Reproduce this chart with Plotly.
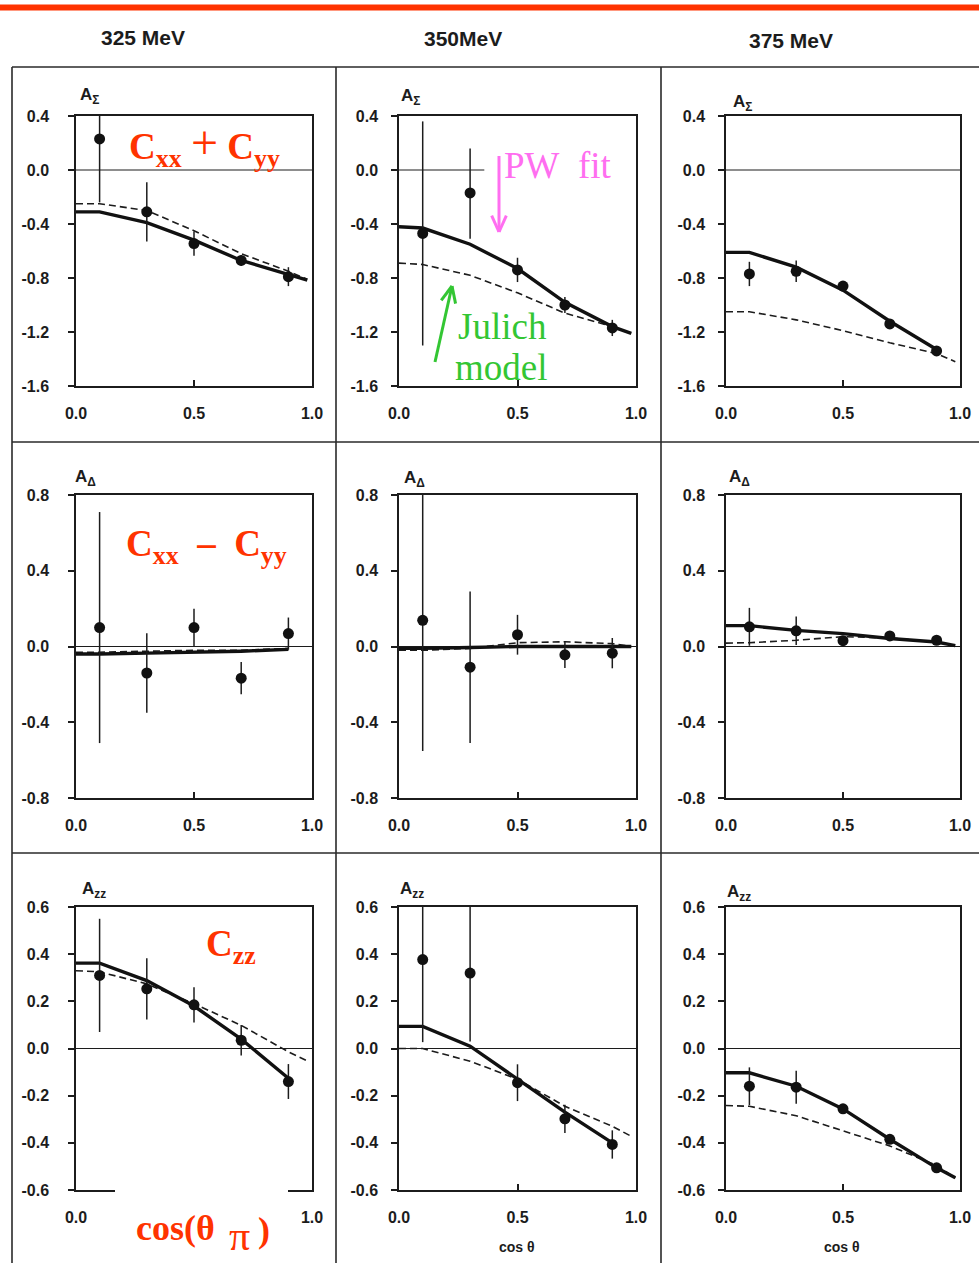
import math
import plotly.graph_objects as go

W, H = 979, 1263

# ---------------- data ----------------
energies = ["325 MeV", "350MeV", "375 MeV"]
observables = ["A<sub>Σ</sub>", "A<sub>Δ</sub>", "A<sub>zz</sub>"]

cos_pts = [0.1, 0.3, 0.5, 0.7, 0.9]
curve_x = [0.0, 0.1, 0.3, 0.5, 0.7, 0.9, 0.98]

# A_Sigma = Cxx + Cyy
asig_325 = [0.23, -0.31, -0.545, -0.67, -0.79]
asig_325_up = [0.20, 0.22, 0.09, 0.04, 0.07]
asig_325_dn = [0.47, 0.22, 0.09, 0.04, 0.07]
asig_325_pw = [-0.31, -0.31, -0.39, -0.52, -0.67, -0.775, -0.815]
asig_325_jul = [-0.25, -0.25, -0.30, -0.45, -0.62, -0.75, -0.81]

asig_350 = [-0.47, -0.17, -0.74, -1.00, -1.17]
asig_350_up = [0.83, 0.33, 0.09, 0.06, 0.06]
asig_350_dn = [0.83, 0.34, 0.09, 0.06, 0.06]
asig_350_pw = [-0.42, -0.43, -0.55, -0.73, -0.98, -1.16, -1.21]
asig_350_jul = [-0.69, -0.70, -0.78, -0.91, -1.06, -1.16, -1.21]

asig_375 = [-0.77, -0.75, -0.86, -1.14, -1.34]
asig_375_up = [0.09, 0.08, 0.03, 0.03, 0.03]
asig_375_dn = [0.09, 0.08, 0.03, 0.03, 0.03]
asig_375_pw = [-0.61, -0.61, -0.72, -0.89, -1.12, -1.33, None]
asig_375_jul = [-1.05, -1.05, -1.11, -1.19, -1.28, -1.36, -1.42]

# A_Delta = Cxx - Cyy
adel_325 = [0.10, -0.14, 0.10, -0.167, 0.068]
adel_325_up = [0.61, 0.21, 0.10, 0.085, 0.085]
adel_325_dn = [0.61, 0.21, 0.10, 0.085, 0.085]
adel_325_pw = [-0.04, -0.04, -0.035, -0.03, -0.025, -0.015, None]
adel_325_jul = [-0.03, -0.03, -0.025, -0.02, -0.02, -0.01, None]

adel_350 = [0.138, -0.109, 0.062, -0.044, -0.035]
adel_350_up = [0.73, 0.40, 0.105, 0.07, 0.08]
adel_350_dn = [0.69, 0.40, 0.105, 0.07, 0.08]
adel_350_pw = [-0.01, -0.01, -0.005, 0.0, 0.0, 0.0, 0.0]
adel_350_jul = [-0.02, -0.02, -0.01, 0.02, 0.025, 0.015, 0.0]

adel_375 = [0.104, 0.083, 0.031, 0.056, 0.033]
adel_375_up = [0.10, 0.075, 0.025, 0.015, 0.015]
adel_375_dn = [0.10, 0.075, 0.025, 0.015, 0.015]
adel_375_pw = [0.11, 0.11, 0.085, 0.068, 0.042, 0.024, 0.005]
adel_375_jul = [0.018, 0.02, 0.033, 0.052, 0.045, 0.024, 0.005]

# A_zz = Czz
azz_325 = [0.31, 0.253, 0.185, 0.035, -0.14]
azz_325_up = [0.24, 0.13, 0.075, 0.065, 0.074]
azz_325_dn = [0.24, 0.13, 0.075, 0.065, 0.074]
azz_325_pw = [0.362, 0.362, 0.288, 0.18, 0.04, -0.126, None]
azz_325_jul = [0.33, 0.325, 0.274, 0.19, 0.098, -0.014, -0.053]

azz_350 = [0.377, 0.32, -0.145, -0.298, -0.407]
azz_350_up = [0.245, 0.30, 0.078, 0.06, 0.06]
azz_350_dn = [0.35, 0.29, 0.078, 0.06, 0.06]
azz_350_pw = [0.094, 0.094, 0.01, -0.13, -0.27, -0.40, None]
azz_350_jul = [0.0, 0.0, -0.054, -0.13, -0.245, -0.33, -0.372]

azz_375 = [-0.16, -0.164, -0.256, -0.385, -0.506]
azz_375_up = [0.08, 0.07, 0.02, 0.02, 0.02]
azz_375_dn = [0.08, 0.07, 0.02, 0.02, 0.02]
azz_375_pw = [-0.103, -0.103, -0.16, -0.256, -0.385, -0.506, -0.548]
azz_375_jul = [-0.242, -0.245, -0.285, -0.35, -0.413, -0.496, -0.55]

x_ticks = [0.0, 0.5, 1.0]
x_ticklabels = ["0.0", "0.5", "1.0"]
y_ticks_sig = [-1.6, -1.2, -0.8, -0.4, 0.0, 0.4]
y_ticklabels_sig = ["-1.6", "-1.2", "-0.8", "-0.4", "0.0", "0.4"]
y_ticks_del = [-0.8, -0.4, 0.0, 0.4, 0.8]
y_ticklabels_del = ["-0.8", "-0.4", "0.0", "0.4", "0.8"]
y_ticks_zz = [-0.6, -0.4, -0.2, 0.0, 0.2, 0.4, 0.6]
y_ticklabels_zz = ["-0.6", "-0.4", "-0.2", "0.0", "0.2", "0.4", "0.6"]

panels = [
    [(asig_325, asig_325_up, asig_325_dn, asig_325_pw, asig_325_jul),
     (asig_350, asig_350_up, asig_350_dn, asig_350_pw, asig_350_jul),
     (asig_375, asig_375_up, asig_375_dn, asig_375_pw, asig_375_jul)],
    [(adel_325, adel_325_up, adel_325_dn, adel_325_pw, adel_325_jul),
     (adel_350, adel_350_up, adel_350_dn, adel_350_pw, adel_350_jul),
     (adel_375, adel_375_up, adel_375_dn, adel_375_pw, adel_375_jul)],
    [(azz_325, azz_325_up, azz_325_dn, azz_325_pw, azz_325_jul),
     (azz_350, azz_350_up, azz_350_dn, azz_350_pw, azz_350_jul),
     (azz_375, azz_375_up, azz_375_dn, azz_375_pw, azz_375_jul)],
]
row_ranges = [[-1.6, 0.4], [-0.8, 0.8], [-0.6, 0.6]]
row_ticks = [(y_ticks_sig, y_ticklabels_sig), (y_ticks_del, y_ticklabels_del),
             (y_ticks_zz, y_ticklabels_zz)]

# ---------------- geometry (pixels) ----------------
col_px = [(76, 312), (399, 636), (726, 960)]
row_px = [(116, 386), (495, 798), (907, 1190)]
ylabel_standoff = [16, 10, 10]


def px(x):
    return x / W


def py(y):
    return 1 - y / H


INK = "#1c1c1c"
RED = "#ff3300"
PINK = "#ff6ef0"
GREEN = "#33c633"
TICKFONT = dict(family="Liberation Sans, Arial", size=16, color=INK, weight="bold")

fig = go.Figure()
layout = dict(width=W, height=H,
              margin=dict(l=0, r=0, t=0, b=0, pad=0, autoexpand=False),
              paper_bgcolor="white", plot_bgcolor="white", showlegend=False)
shapes = []
annotations = []

for r in range(3):
    for c in range(3):
        k = r * 3 + c + 1
        xa = "x" if k == 1 else f"x{k}"
        ya = "y" if k == 1 else f"y{k}"
        xkey = "xaxis" if k == 1 else f"xaxis{k}"
        ykey = "yaxis" if k == 1 else f"yaxis{k}"
        pts, up, dn, pw, jul = panels[r][c]

        # the 325 MeV A_zz panel has its middle x label hidden under the axis title
        if (r, c) == (2, 0):
            xt, xl = [x_ticks[0], x_ticks[2]], [x_ticklabels[0], x_ticklabels[2]]
        else:
            xt, xl = x_ticks, x_ticklabels

        layout[xkey] = dict(
            domain=[px(col_px[c][0]), px(col_px[c][1])], anchor=ya,
            range=[0, 1], tickvals=xt, ticktext=xl, automargin=False,
            showline=True, mirror=True, linecolor=INK, linewidth=1.5,
            showgrid=False, zeroline=False, ticks="inside", ticklen=6,
            tickcolor=INK, tickwidth=1.5, tickfont=TICKFONT,
            ticklabelstandoff=12, fixedrange=True)
        layout[ykey] = dict(
            domain=[py(row_px[r][1]), py(row_px[r][0])], anchor=xa,
            range=row_ranges[r], tickvals=row_ticks[r][0],
            ticktext=row_ticks[r][1], automargin=False,
            showline=True, mirror=True, linecolor=INK, linewidth=1.5,
            showgrid=False, zeroline=False, ticks="outside", ticklen=6,
            tickcolor=INK, tickwidth=1.5, tickfont=TICKFONT,
            ticklabelstandoff=ylabel_standoff[c], fixedrange=True)

        # reference line at zero (partly covered by a label at 350 MeV A_Sigma)
        shapes.append(dict(type="line", xref=xa, yref=ya, x0=0,
                           x1=0.36 if (r, c) == (0, 1) else 1, y0=0, y1=0,
                           line=dict(color=INK, width=1), layer="below"))

        # Julich model (dashed)
        fig.add_trace(go.Scatter(x=curve_x, y=jul, xaxis=xa, yaxis=ya,
                                 mode="lines", connectgaps=False,
                                 line=dict(color=INK, width=1.6, dash="7px,4px")))
        # partial-wave fit (solid)
        fig.add_trace(go.Scatter(x=curve_x, y=pw, xaxis=xa, yaxis=ya,
                                 mode="lines", connectgaps=False,
                                 line=dict(color="#111111", width=3.4)))
        # measured points
        fig.add_trace(go.Scatter(
            x=cos_pts, y=pts, xaxis=xa, yaxis=ya, mode="markers",
            marker=dict(color="#111111", size=11), cliponaxis=False,
            error_y=dict(type="data", symmetric=False, array=up, arrayminus=dn,
                         width=0, thickness=1.5, color=INK)))

# observable labels above each panel
label_pos = [[(78, 96), (399, 97), (731, 103)],
             [(73, 478), (402, 479), (727, 478)],
             [(80, 890), (398, 890), (725, 893)]]
for r in range(3):
    for c in range(3):
        lx, ly = label_pos[r][c]
        annotations.append(dict(xref="paper", yref="paper", x=px(lx), y=py(ly),
                                xanchor="left", yanchor="middle", showarrow=False,
                                text=f"<b>{observables[r]}</b>",
                                font=dict(family="Liberation Sans, Arial", size=17,
                                          color=INK)))

# energy headers
for name, (hx, hy) in zip(energies, [(143, 38), (463, 39), (791, 41)]):
    annotations.append(dict(xref="paper", yref="paper", x=px(hx), y=py(hy),
                            xanchor="center", yanchor="middle", showarrow=False,
                            text=f"<b>{name}</b>",
                            font=dict(family="Liberation Sans, Arial", size=21,
                                      color=INK)))

# cos theta axis titles
for hx in (517, 842):
    annotations.append(dict(xref="paper", yref="paper", x=px(hx), y=py(1247),
                            xanchor="center", yanchor="middle", showarrow=False,
                            text="<b>cos θ</b>",
                            font=dict(family="Liberation Sans, Arial", size=14,
                                      color=INK)))

# outer frame of the panel grid
frame = dict(color="#2a2a2a", width=1.6)
for yy in (67, 442, 853):
    shapes.append(dict(type="line", xref="paper", yref="paper",
                       x0=px(12), x1=1, y0=py(yy), y1=py(yy), line=frame))
for xx in (12, 336, 661):
    shapes.append(dict(type="line", xref="paper", yref="paper",
                       x0=px(xx), x1=px(xx), y0=py(67), y1=0, line=frame))

# red rule along the top
shapes.append(dict(type="rect", xref="paper", yref="paper", x0=0, x1=1,
                   y0=py(10.5), y1=py(4.5), fillcolor=RED, line=dict(width=0)))

# blank patch behind the cos(theta_pi) label
shapes.append(dict(type="rect", xref="paper", yref="paper", x0=px(115), x1=px(288),
                   y0=0, y1=py(1183), fillcolor="white", line=dict(width=0),
                   layer="above"))

SERIF = "Liberation Serif, Times New Roman"


def note(text, x, y, size, color, xanchor="left", yanchor="middle"):
    annotations.append(dict(xref="paper", yref="paper", x=px(x), y=py(y),
                            xanchor=xanchor, yanchor=yanchor, showarrow=False,
                            text=text, font=dict(family=SERIF, size=size, color=color)))


note("<b>C<sub>xx</sub></b>&nbsp;<span style='font-size:48px'>+</span>&nbsp;<b>C<sub>yy</sub></b>",
     127, 144, 37, RED)
note("<b>C<sub>xx</sub>&nbsp; – &nbsp;C<sub>yy</sub></b>", 124, 546, 37, RED)
note("<b>C<sub>zz</sub></b>", 204, 946, 37, RED)
note("<b>cos(θ</b>", 134, 1228, 36, RED)
note("π", 227, 1236, 42, RED)
note("<b>)</b>", 256, 1230, 36, RED)
note("PW&nbsp;&nbsp;fit", 502, 165, 37, PINK)
note("Julich", 456, 327, 37, GREEN)
note("model", 453, 368, 37, GREEN)


def arrow(x0, y0, x1, y1, color, width=3, head=18, spread=0.42):
    shapes.append(dict(type="line", xref="paper", yref="paper",
                       x0=px(x0), y0=py(y0), x1=px(x1), y1=py(y1),
                       line=dict(color=color, width=width)))
    ang = math.atan2(y1 - y0, x1 - x0)
    for s in (-spread, spread):
        hx = x1 - head * math.cos(ang + s)
        hy = y1 - head * math.sin(ang + s)
        shapes.append(dict(type="line", xref="paper", yref="paper",
                           x0=px(hx), y0=py(hy), x1=px(x1), y1=py(y1),
                           line=dict(color=color, width=width)))


arrow(499, 156, 499, 232, PINK)
arrow(435, 362, 452, 286, GREEN)

layout["shapes"] = shapes
layout["annotations"] = annotations
fig.update_layout(**layout)
fig.write_html("out.html", post_script="document.body.style.margin='0px';")
